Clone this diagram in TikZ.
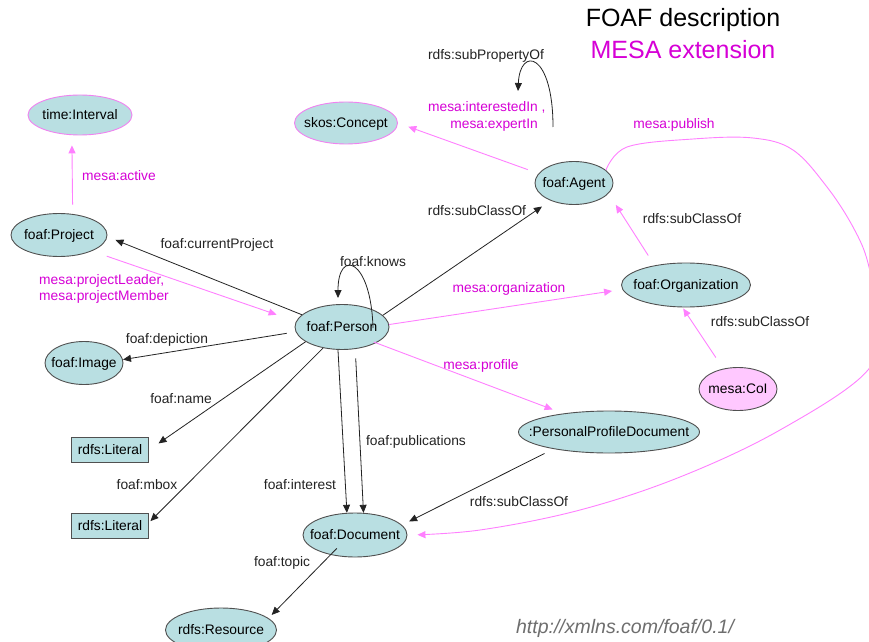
\documentclass[tikz,border=0pt]{standalone}
\usepackage{fontspec}
\setmainfont{Liberation Sans}
\usetikzlibrary{arrows.meta,shapes.geometric}

\definecolor{nodefill}{RGB}{185,223,226}
\definecolor{cofill}{RGB}{255,200,255}
\definecolor{nodeline}{RGB}{80,80,80}
\definecolor{mesaline}{RGB}{255,128,255}
\definecolor{mesatext}{RGB}{214,0,214}
\definecolor{mesaborder}{RGB}{240,130,240}
\definecolor{urlgray}{RGB}{110,110,110}
\definecolor{edgeblack}{RGB}{35,35,35}

% node text takes no width, so the shape size comes from the minimum sizes
\newcommand\ntx[1]{\makebox[0pt]{#1}}

\tikzset{
  every node/.style={font=\fontsize{13.8}{16}\selectfont},
  cls/.style={ellipse, draw=nodeline, line width=0.9pt, fill=nodefill,
    inner sep=0pt, text height=9.8pt, text depth=0pt},
  lit/.style={rectangle, draw=nodeline, line width=0.9pt, fill=nodefill,
    inner sep=0pt, minimum width=77pt, minimum height=25pt,
    text height=9.8pt, text depth=0pt},
  lab/.style={inner sep=0pt, text height=9.8pt, text depth=0pt, text=edgeblack},
  mlab/.style={lab, text=mesatext},
  tip/.style={-{Triangle[length=8pt,width=7pt]}},
  bedge/.style={draw=edgeblack, line width=0.8pt, tip},
  medge/.style={draw=mesaline, line width=0.9pt, tip},
}

\begin{document}
\begin{tikzpicture}[x=1pt,y=1pt]
\clip (0,0) rectangle (869,641);
\fill[white] (0,0) rectangle (869,641);

% ---------- classes ----------
\node[cls, draw=mesaborder, minimum width=104pt, minimum height=40pt] (interval) at (80,526) {\ntx{time:Interval}};
\node[cls, minimum width=96pt, minimum height=43pt] (project) at (59,406) {\ntx{foaf:Project}};
\node[cls, draw=mesaborder, minimum width=103pt, minimum height=42pt] (concept) at (346,518) {\ntx{skos:Concept}};
\node[cls, minimum width=78pt, minimum height=43pt] (agent) at (574,458) {\ntx{foaf:Agent}};
\node[cls, minimum width=129pt, minimum height=44pt] (org) at (686,356) {\ntx{foaf:Organization}};
\node[cls, fill=cofill, minimum width=78pt, minimum height=43pt] (coi) at (738,252) {\ntx{mesa:CoI}};
\node[cls, minimum width=94pt, minimum height=45pt] (person) at (342,314) {\ntx{foaf:Person}};
\node[cls, minimum width=78pt, minimum height=43pt] (image) at (84,278) {\ntx{foaf:Image}};
\node[lit] (lit1) at (110,191) {rdfs:Literal};
\node[lit] (lit2) at (110,115) {rdfs:Literal};
\node[cls, minimum width=181pt, minimum height=42pt] (ppd) at (609,209) {\ntx{:PersonalProfileDocument}};
\node[cls, minimum width=104pt, minimum height=44pt] (doc) at (355,106) {\ntx{foaf:Document}};
\node[cls, minimum width=111pt, minimum height=44pt] (res) at (221,11) {\ntx{rdfs:Resource}};

% ---------- property labels ----------
\node[mlab] (lactive) at (119,465) {mesa:active};
\node[lab] (lcurproj) at (217,397) {foaf:currentProject};
\node[mlab, anchor=west] (lpl1) at (39,361) {mesa:projectLeader,};
\node[mlab, anchor=west] (lpl2) at (39,345) {mesa:projectMember};
\node[lab] (lknows) at (373,379) {foaf:knows};
\node[mlab] (lorg) at (509,353) {mesa:organization};
\node[mlab] (lprofile) at (481,276) {mesa:profile};
\node[lab] (ldepic) at (167,302) {foaf:depiction};
\node[lab] (lname) at (181,242) {foaf:name};
\node[lab] (lmbox) at (147,156) {foaf:mbox};
\node[lab] (linterest) at (300,156) {foaf:interest};
\node[lab] (lpubs) at (416,200) {foaf:publications};
\node[lab] (ltopic) at (282,79) {foaf:topic};
\node[lab] (lsc1) at (477,430) {rdfs:subClassOf};
\node[lab] (lsc2) at (692,422) {rdfs:subClassOf};
\node[lab] (lsc3) at (760,319) {rdfs:subClassOf};
\node[lab] (lsc4) at (519,139) {rdfs:subClassOf};
\node[lab] (lsubprop) at (486,586) {rdfs:subPropertyOf};
\node[mlab, anchor=east] (lint1) at (538,534) {mesa:interestedIn\rlap{\ ,}};
\node[mlab, anchor=east] (lint2) at (538,517) {mesa:expertIn};
\node[mlab] (lpublish) at (674,517) {mesa:publish};

% ---------- heading and namespace ----------
\node[anchor=base, font=\fontsize{25}{30}\selectfont] (title) at (683,614) {FOAF description};
\node[anchor=base, font=\fontsize{25}{30}\selectfont, text=mesatext] (subtitle) at (683,582) {MESA extension};
\node[anchor=base, font=\fontsize{19.5}{22}\selectfont\itshape, text=urlgray] (ns) at (625,8) {http://xmlns.com/foaf/0.1/};

% ---------- properties ----------
\draw[medge, shorten <=9.3pt, shorten >=10.2pt] (project.57.9) -- (interval.-112);
\draw[bedge, shorten >=8.8pt] (person.163) -- (project.-2);
\draw[medge, shorten <=15.6pt, shorten >=20.5pt] (project.-26.2) -- (person.173.4);
\draw[bedge, shorten <=9pt] (person.-174) -- (image.5.8);
\draw[bedge, shorten >=11.6pt] (person.-158.7) -- (lit1.-0.9);
\draw[bedge, shorten >=2.1pt] (person.-132) -- (lit2.5.2);
\draw[bedge] (person.-100.6) -- (doc.110.2);
\draw[bedge, shorten <=9.4pt] (person.-59.9) -- (doc.69.8);
\draw[bedge, shorten <=-9pt, shorten >=4.5pt] (doc.-141.4) -- (res.14.2);
\draw[bedge] ([shift={(31,-1)}]person.center) .. controls +(-2,70) and +(0,50) .. ([shift={(-4,29)}]person.center);
\draw[bedge, shorten >=10.4pt] (person.16.7) -- (agent.-143.8);
\draw[medge, shorten >=10.4pt] (person.3.6) -- (org.-176.9);
\draw[medge, shorten <=-2.5pt, shorten >=11.3pt] (person.-25.5) -- (ppd.158.8);
\draw[bedge, shorten <=10pt, shorten >=8pt] (ppd.-163.6) -- (doc.12.8);
\draw[medge, shorten <=11.4pt, shorten >=11pt] (agent.165.4) -- (concept.-0.3);
\draw[bedge] ([shift={(15,-3)}]lint2.east) .. controls +(0,75) and +(2,45) .. ([shift={(-20,16)}]lint1.east);
\draw[medge, shorten <=11.7pt, shorten >=13.4pt] (org.148.7) -- (agent.-17.6);
\draw[medge, shorten <=13.3pt, shorten >=1.3pt] (coi.126.5) -- (org.-99.6);
\draw[medge, shorten >=10pt] plot[smooth, tension=0.6] coordinates {(agent.22) (627,494) (693,502) (753,503) (793,491) (827,454) (853,414) (868,378) (876,325) (868,271) (780,211) (680,164) (580,131) (480,111) (doc.east)};
\end{tikzpicture}
\end{document}
